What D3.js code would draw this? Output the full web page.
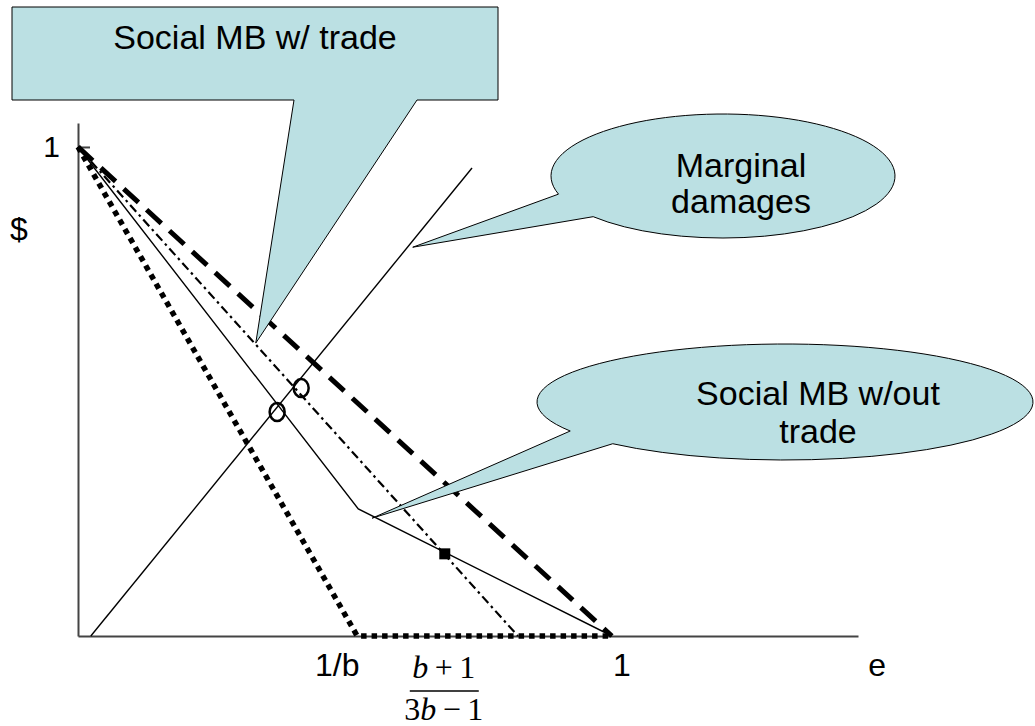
<!DOCTYPE html>
<meta charset="utf-8">
<style>
body { margin: 0; background: #fff; }
svg { font-family: 'Liberation Sans', Arial, sans-serif; }
.callout { fill: #bbe0e3; stroke: #000; stroke-width: 1; }
.ax path, .ax line { stroke: #444; stroke-width: 2; }
</style>
<body>
<script src="https://cdn.jsdelivr.net/npm/d3@7"></script>
<script>
var width = 1035,
    height = 726;

// curves, in (e, $) units
var dashedE = [0, 1],              dashedV = [1, 0];
var dottedE = [0, 0.523, 1],       dottedV = [1, 0, 0];
var dashDotE = [0, 0.824],         dashDotV = [1, 0];
var kinkE = [0, 0.525, 1],         kinkV = [1, 0.26, 0];
var damageE = [0.024, 0.738],      damageV = [0, 0.957];
// markers
var circleE = [0.373, 0.418],      circleV = [0.458, 0.507];
var squareE = [0.687],             squareV = [0.168];
// labels
var xLabels = ["1/b", "1", "e"],   xLabelE = [0.523, 1, 1.497];
var yTicks = [1];
// callout tips, (e, $)
var tipE = [0.333, 0.627, 0.551],  tipV = [0.599, 0.795, 0.241];

var x = d3.scaleLinear().domain([0, 1.461]).range([78, 858]);
var y = d3.scaleLinear().domain([0, 1.049]).range([636, 123]);

var svg = d3.select("body").append("svg")
    .attr("width", width)
    .attr("height", height);

var line = d3.line().x(d => x(d[0])).y(d => y(d[1]));
var pts = (es, vs) => es.map((e, i) => [e, vs[i]]);

// axes
svg.append("g").attr("class", "ax")
    .attr("transform", "translate(" + x(0) + ",0)")
    .call(d3.axisLeft(y).tickValues(yTicks).tickFormat(d3.format("d"))
      .tickSizeInner(-12).tickSizeOuter(0).tickPadding(18))
    .call(g => g.selectAll("text").attr("font-size", 30).attr("fill", "#000")
      .attr("font-family", "'Liberation Sans', Arial, sans-serif"));
svg.append("g").attr("class", "ax")
    .attr("transform", "translate(0," + y(0) + ")")
    .call(d3.axisBottom(x).tickValues([]).tickSizeOuter(0));

svg.append("text").attr("x", 19).attr("y", 240)
    .attr("text-anchor", "middle").attr("font-size", 32).text("$");

var xOff = [-20, 10, 0];
svg.selectAll(".xl").data(xLabels).join("text")
    .attr("class", "xl")
    .attr("x", (d, i) => x(xLabelE[i]) + xOff[i])
    .attr("y", 676)
    .attr("text-anchor", "middle")
    .attr("font-size", 32)
    .text(d => d);

// (b+1)/(3b-1) under the square
var fx = x(squareE[0]) - 1;
var frac = svg.append("g").attr("font-family", "'Liberation Serif', 'Times New Roman', serif")
    .attr("font-size", 32).attr("text-anchor", "middle");
var num = frac.append("text").attr("x", fx).attr("y", 678);
num.append("tspan").attr("font-style", "italic").text("b");
num.append("tspan").text("\u2009+\u20091");
var den = frac.append("text").attr("x", fx).attr("y", 720);
den.append("tspan").text("3");
den.append("tspan").attr("font-style", "italic").text("b");
den.append("tspan").text("\u2009\u2212\u20091");
frac.append("line").attr("x1", fx - 34).attr("x2", fx + 35)
    .attr("y1", 691).attr("y2", 691).attr("stroke", "#000").attr("stroke-width", 1.5);

// curves
svg.append("path").datum(pts(dottedE, dottedV)).attr("d", line)
    .attr("fill", "none").attr("stroke", "#000").attr("stroke-width", 5.5)
    .attr("stroke-dasharray", "5.5,5");
svg.append("path").datum(pts(dashedE, dashedV)).attr("d", line)
    .attr("fill", "none").attr("stroke", "#000").attr("stroke-width", 5)
    .attr("stroke-dasharray", "20,11");
svg.append("path").datum(pts(dashDotE, dashDotV)).attr("d", line)
    .attr("fill", "none").attr("stroke", "#000").attr("stroke-width", 2.2)
    .attr("stroke-dasharray", "9,4,2.5,4");
svg.append("path").datum(pts(kinkE, kinkV)).attr("d", line)
    .attr("fill", "none").attr("stroke", "#000").attr("stroke-width", 1.4);
svg.append("path").datum(pts(damageE, damageV)).attr("d", line)
    .attr("fill", "none").attr("stroke", "#000").attr("stroke-width", 1.4);

svg.selectAll(".circ").data(pts(circleE, circleV)).join("ellipse")
    .attr("class", "circ")
    .attr("cx", d => x(d[0])).attr("cy", d => y(d[1]))
    .attr("rx", 7.5).attr("ry", 9)
    .attr("fill", "none").attr("stroke", "#000").attr("stroke-width", 2.5);
svg.selectAll(".sq").data(pts(squareE, squareV)).join("rect")
    .attr("class", "sq")
    .attr("x", d => x(d[0]) - 5.5).attr("y", d => y(d[1]) - 5.5)
    .attr("width", 11).attr("height", 11).attr("fill", "#000");

// callouts
var tips = pts(tipE, tipV).map(d => [x(d[0]), y(d[1])]);

svg.append("path").attr("class", "callout")
    .attr("d", "M12,7H498V100H417L" + tips[0][0] + "," + tips[0][1] + "L294,100H12Z");
svg.append("text").attr("x", 255).attr("y", 49)
    .attr("text-anchor", "middle").attr("font-size", 34).text("Social MB w/ trade");

function ellCallout(cx, cy, rx, ry, a1, a2, tip) {
  var p = a => [cx + rx * Math.cos(a * Math.PI / 180), cy + ry * Math.sin(a * Math.PI / 180)];
  var A = p(a1), B = p(a2);
  svg.append("path").attr("class", "callout")
      .attr("d", "M" + A + "A" + rx + "," + ry + " 0 1 1 " + B + "L" + tip + "Z");
}
ellCallout(723, 176, 172, 62, 163, 139, tips[1]);
ellCallout(785, 402, 248, 58, 150, 134, tips[2]);

svg.append("text").attr("x", 741).attr("y", 177)
    .attr("text-anchor", "middle").attr("font-size", 34).text("Marginal");
svg.append("text").attr("x", 741).attr("y", 213)
    .attr("text-anchor", "middle").attr("font-size", 34).text("damages");
svg.append("text").attr("x", 818).attr("y", 405)
    .attr("text-anchor", "middle").attr("font-size", 34).text("Social MB w/out");
svg.append("text").attr("x", 818).attr("y", 443)
    .attr("text-anchor", "middle").attr("font-size", 34).text("trade");
</script>
</body>
